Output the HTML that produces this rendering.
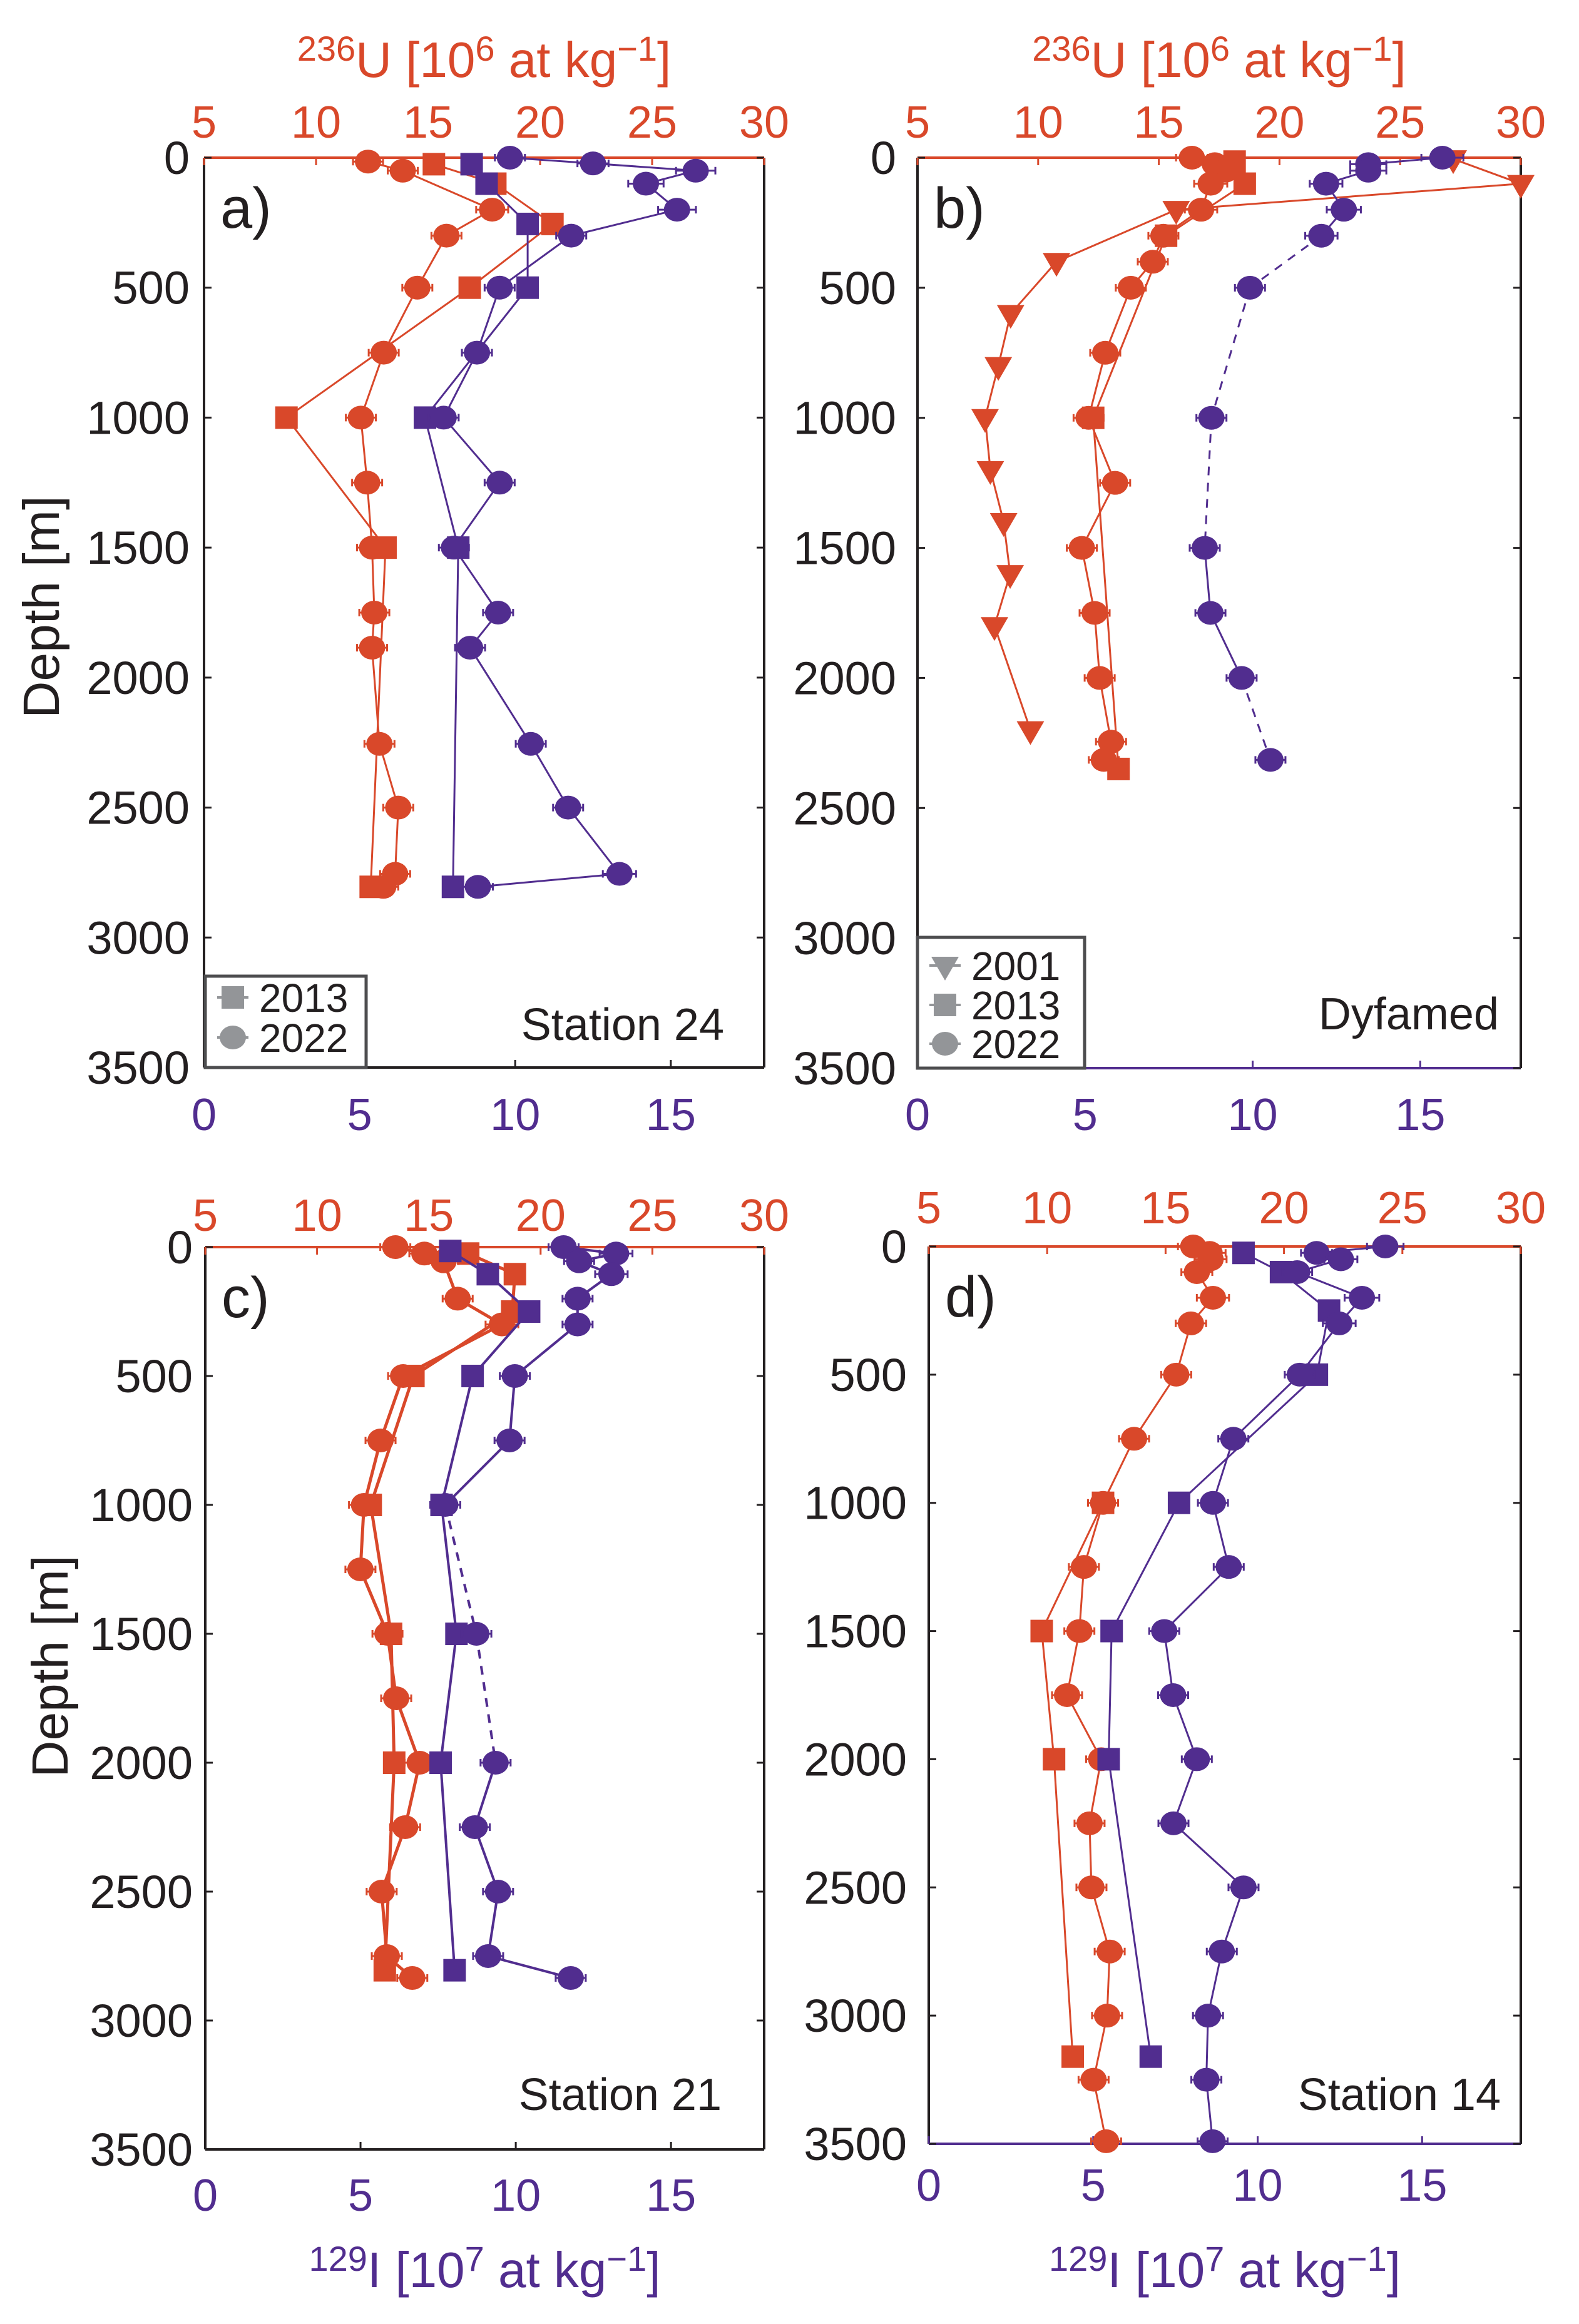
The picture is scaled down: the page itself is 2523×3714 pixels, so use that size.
<!DOCTYPE html>
<html><head><meta charset="utf-8">
<style>
html,body{margin:0;padding:0;background:#fff;}
svg{display:block;font-family:"Liberation Sans",sans-serif;}
</style></head>
<body>
<svg id="fig" width="2523" height="3714" viewBox="0 0 2523 3714" xmlns="http://www.w3.org/2000/svg"></svg>
<script>
// ---------- DATA ----------
// Panel a: Station 24
const aI22Val=[9.83,12.5,15.8,14.2,15.2,11.8,9.5,8.77,7.7,9.5,8.03,9.45,8.55,10.5,11.7,13.35,8.8];
const aI22Dep=[0,22,50,100,200,300,500,750,1000,1250,1500,1750,1885,2255,2500,2755,2805];
const aI13Val=[8.6,9.08,10.4,10.4,7.1,8.17,8.0];
const aI13Dep=[25,100,255,500,1000,1500,2805];
const aU22Val=[12.32,13.87,17.86,15.82,14.52,13.02,12.0,12.28,12.5,12.6,12.5,12.83,13.67,13.53,13.0];
const aU22Dep=[15,50,200,300,500,750,1000,1250,1500,1750,1885,2255,2500,2755,2805];
const aU13Val=[15.26,18.0,20.55,16.86,8.68,13.1,12.44];
const aU13Dep=[25,100,255,500,1000,1500,2805];
// Panel b: Dyfamed
const bI22Val=[15.66,13.45,13.45,12.19,12.72,12.05,9.92,8.77,8.57,8.74,9.67,10.53];
const bI22Dep=[0,25,50,100,200,300,500,1000,1500,1750,2000,2315];
const bI22Dash=[0,0,0,0,0,1,1,1,0,0,1];
const bU01Val=[27.2,30.0,15.72,10.76,8.86,8.35,7.8,8.02,8.57,8.84,8.19,9.68];
const bU01Dep=[5,100,200,400,600,800,1000,1200,1400,1600,1800,2200];
const bU22Val=[16.37,17.32,17.76,17.15,16.75,15.19,14.75,13.84,12.78,12.09,13.19,11.81,12.34,12.55,13.02,12.72];
const bU22Dep=[0,25,50,100,200,300,400,500,750,1000,1250,1500,1750,2000,2245,2315];
const bU13Val=[18.14,18.56,15.3,12.28,13.33];
const bU13Dep=[15,100,300,1000,2350];
// Panel c: Station 21
const cI22Val=[11.54,13.23,12.04,13.08,11.99,11.99,9.97,9.8,7.73,8.73,9.35,8.68,9.43,9.11,11.77];
const cI22Dep=[0,25,55,105,200,300,500,750,1000,1500,2000,2250,2500,2750,2835];
const cI22Dash=[0,0,0,0,0,0,0,0,1,1,0,0,0,0];
const cI13Val=[7.89,9.1,10.43,8.61,7.61,8.09,7.58,8.03];
const cI13Dep=[15,105,250,500,1000,1500,2000,2805];
const cU22Val=[13.5,14.8,15.66,16.29,18.27,13.85,12.84,12.1,11.94,13.15,13.54,14.59,13.94,12.89,13.12,14.26];
const cU22Dep=[0,25,55,200,300,500,750,1000,1250,1500,1750,2000,2250,2500,2750,2835];
const cU13Val=[16.76,18.85,18.73,14.31,12.4,13.31,13.45,13.03];
const cU13Dep=[25,105,250,500,1000,1500,2000,2805];
// Panel d: Station 14
const dI22Val=[13.88,11.79,12.53,11.2,13.17,12.48,11.28,9.26,8.64,9.12,7.16,7.43,8.15,7.44,9.57,8.91,8.49,8.44,8.63];
const dI22Dep=[0,25,50,100,200,300,500,750,1000,1250,1500,1750,2000,2250,2500,2750,3000,3250,3490];
const dI13Val=[9.57,10.71,12.17,11.8,7.61,5.56,5.47,6.75];
const dI13Dep=[25,100,250,500,1000,1500,2000,3160];
const dU22Val=[16.17,16.86,16.9,16.32,17.0,16.07,15.45,13.67,12.36,11.55,11.36,10.84,12.28,11.79,11.87,12.64,12.53,11.96,12.49];
const dU22Dep=[0,25,50,100,200,300,500,750,1000,1250,1500,1750,2000,2250,2500,2750,3000,3250,3490];
const dU13Val=[12.36,9.77,10.29,11.08];
const dU13Dep=[1000,1500,2000,3160];
// axis ticks
const depthTicks=[0,500,1000,1500,2000,2500,3000,3500];
const uTicks=[5,10,15,20,25,30];
const iTicks=[0,5,10,15];

// ---------- RENDERING ----------
const NS="http://www.w3.org/2000/svg";
const svg=document.getElementById('fig');
const OR="#d9482a", PU="#512d8f", BK="#231f20";
function mk(tag,attrs,parent){const e=document.createElementNS(NS,tag);for(const k in attrs)e.setAttribute(k,attrs[k]);(parent||svg).appendChild(e);return e;}

const panels=[
 {id:'a',x0:326,x1:1221,y0:252,y1:1706,botColor:BK,lab:'a)',station:'Station 24',stX:1157,stY:1662,yLabX:303,topTickY:220,botTickY:1806,topTitle:true,botTitle:false,depthTitle:true,dtX:66,dtY:970},
 {id:'b',x0:1466,x1:2430,y0:252,y1:1707,botColor:PU,lab:'b)',station:'Dyfamed',stX:2395,stY:1645,yLabX:1432,topTickY:220,botTickY:1806,topTitle:true,botTitle:false,depthTitle:false},
 {id:'c',x0:328,x1:1221,y0:1993,y1:3435,botColor:BK,lab:'c)',station:'Station 21',stX:1153,stY:3372,yLabX:308,topTickY:1967,botTickY:3533,topTitle:false,botTitle:true,depthTitle:true,dtX:80,dtY:2663},
 {id:'d',x0:1484,x1:2430,y0:1992,y1:3426,botColor:PU,lab:'d)',station:'Station 14',stX:2398,stY:3372,yLabX:1449,topTickY:1955,botTickY:3517,topTitle:false,botTitle:true,depthTitle:false}
];

function xI(p,v){return p.x0+(v-0)/18*(p.x1-p.x0);}
function xU(p,v){return p.x0+(v-5)/25*(p.x1-p.x0);}
function yD(p,d){return p.y0+d/3500*(p.y1-p.y0);}

function marker(g,shape,cx,cy,color,name){
  let e;
  if(shape==='c'){e=mk('ellipse',{cx:cx,cy:cy,rx:21,ry:19,fill:color},g);}
  else if(shape==='s'){e=mk('rect',{x:cx-18,y:cy-18,width:36,height:36,fill:color},g);}
  else {e=mk('polygon',{points:`${cx-22},${cy-14} ${cx+22},${cy-14} ${cx},${cy+24}`,fill:color},g);}
  
  
}

function series(p,vals,deps,xf,color,shape,name,lw,dash,err){
  const g=mk('g',{});
  
  
  const pts=vals.map((v,i)=>[xf(p,v),yD(p,deps[i])]);
  for(let i=0;i<pts.length-1;i++){
    const ln=mk('line',{x1:pts[i][0],y1:pts[i][1],x2:pts[i+1][0],y2:pts[i+1][1],stroke:color,'stroke-width':lw},g);
    if(dash&&dash[i])ln.setAttribute('stroke-dasharray','14 12');
    
    
  }
  pts.forEach((q,i)=>{
    if(err){
      const w=Math.max(24,(xf(p,vals[i]*1.04)-xf(p,vals[i])));
      const eb=mk('path',{d:`M${q[0]-w},${q[1]}H${q[0]+w}M${q[0]-w},${q[1]-6}V${q[1]+6}M${q[0]+w},${q[1]-6}V${q[1]+6}`,stroke:color,'stroke-width':3,fill:'none'},g);
      
      
    }
    marker(g,shape,q[0],q[1],color,name+'-point');
  });
}

function text(str,x,y,size,color,anchor,name,extra){
  const t=mk('text',Object.assign({x:x,y:y,'font-size':size,fill:color,'text-anchor':anchor||'start'},extra||{}));
  t.textContent=str;
  
  
  return t;
}

panels.forEach(p=>{
  const g=mk('g',{});
  
  
  const fr=mk('path',{d:`M${p.x0},${p.y0}V${p.y1}M${p.x1},${p.y0}V${p.y1}`,stroke:BK,'stroke-width':4,fill:'none'},g);
  
  
  const bl=mk('line',{x1:p.x0,y1:p.y1,x2:p.x1,y2:p.y1,stroke:p.botColor,'stroke-width':4},g);
  
  
  const tl=mk('line',{x1:p.x0,y1:p.y0,x2:p.x1,y2:p.y0,stroke:OR,'stroke-width':4},g);
  
  
  depthTicks.forEach(d=>{
    const y=yD(p,d);
    const tk=mk('path',{d:`M${p.x0},${y}h12M${p.x1},${y}h-12`,stroke:BK,'stroke-width':3},g);
    
    
    text(String(d),p.yLabX,y+26,74,BK,'end','y-tick-label');
  });
  uTicks.forEach(v=>{
    const x=xU(p,v);
    const tk=mk('line',{x1:x,y1:p.y0,x2:x,y2:p.y0+12,stroke:OR,'stroke-width':3},g);
    
    
    text(String(v),x,p.topTickY,72,OR,'middle','top-tick-label');
  });
  iTicks.forEach(v=>{
    const x=xI(p,v);
    const tk=mk('line',{x1:x,y1:p.y1,x2:x,y2:p.y1-12,stroke:p.botColor,'stroke-width':3},g);
    
    
    text(String(v),x,p.botTickY,72,PU,'middle','bottom-tick-label');
  });
  text(p.lab,p.x0+26,p.y0+112,92,BK,'start','panel-letter');
  text(p.station,p.stX,p.stY,72,BK,'end','station-label');
  if(p.topTitle){
    const t=text('',(p.x0+p.x1)/2,123,80,OR,'middle','top-axis-title');
    t.innerHTML='<tspan font-size="56" dy="-26">236</tspan><tspan dy="26">U [10</tspan><tspan font-size="56" dy="-26">6</tspan><tspan dy="26"> at kg</tspan><tspan font-size="56" dy="-26">−1</tspan><tspan dy="26">]</tspan>';
  }
  if(p.botTitle){
    const t=text('',(p.x0+p.x1)/2,3655,80,PU,'middle','bottom-axis-title');
    t.innerHTML='<tspan font-size="56" dy="-26">129</tspan><tspan dy="26">I [10</tspan><tspan font-size="56" dy="-26">7</tspan><tspan dy="26"> at kg</tspan><tspan font-size="56" dy="-26">−1</tspan><tspan dy="26">]</tspan>';
  }
  if(p.depthTitle){
    text('Depth [m]',0,0,82,BK,'middle','y-axis-title',{transform:`translate(${p.dtX+28},${p.dtY}) rotate(-90)`});
  }
});

const [A,B,C,D]=panels;
series(A,aU13Val,aU13Dep,xU,OR,'s','a-u236-2013',3);
series(A,aU22Val,aU22Dep,xU,OR,'c','a-u236-2022',3,null,true);
series(A,aI13Val,aI13Dep,xI,PU,'s','a-i129-2013',3);
series(A,aI22Val,aI22Dep,xI,PU,'c','a-i129-2022',3,null,true);

series(B,bU01Val,bU01Dep,xU,OR,'t','b-u236-2001',3);
series(B,bU13Val,bU13Dep,xU,OR,'s','b-u236-2013',3);
series(B,bU22Val,bU22Dep,xU,OR,'c','b-u236-2022',3,null,true);
series(B,bI22Val,bI22Dep,xI,PU,'c','b-i129-2022',3,bI22Dash,true);

series(C,cU13Val,cU13Dep,xU,OR,'s','c-u236-2013',5);
series(C,cU22Val,cU22Dep,xU,OR,'c','c-u236-2022',5,null,true);
series(C,cI13Val,cI13Dep,xI,PU,'s','c-i129-2013',4);
series(C,cI22Val,cI22Dep,xI,PU,'c','c-i129-2022',4,cI22Dash,true);

series(D,dU13Val,dU13Dep,xU,OR,'s','d-u236-2013',3);
series(D,dU22Val,dU22Dep,xU,OR,'c','d-u236-2022',3,null,true);
series(D,dI13Val,dI13Dep,xI,PU,'s','d-i129-2013',3);
series(D,dI22Val,dI22Dep,xI,PU,'c','d-i129-2022',3,null,true);

function legend(x0,y0,x1,y1,entries,name){
  const g=mk('g',{});
  
  
  const r=mk('rect',{x:x0,y:y0,width:x1-x0,height:y1-y0,fill:'#fff',stroke:'#4d4d4f','stroke-width':5},g);
  
  
  entries.forEach(en=>{
    const mx=x0+44, cy=en[2];
    const l=mk('line',{x1:mx-25,y1:cy,x2:mx+25,y2:cy,stroke:'#939598','stroke-width':4},g);
    
    
    marker(g,en[0],mx,cy,'#939598','legend-marker');
    const t=mk('text',{x:x0+86,y:cy+23,'font-size':64,fill:BK},g);
    t.textContent=en[1];
    
    
  });
}
legend(328,1560,585,1706,[['s','2013',1594],['c','2022',1658]],'legend-a');
legend(1466,1498,1733,1707,[['t','2001',1543],['s','2013',1606],['c','2022',1668]],'legend-b');
</script>
</body></html>
